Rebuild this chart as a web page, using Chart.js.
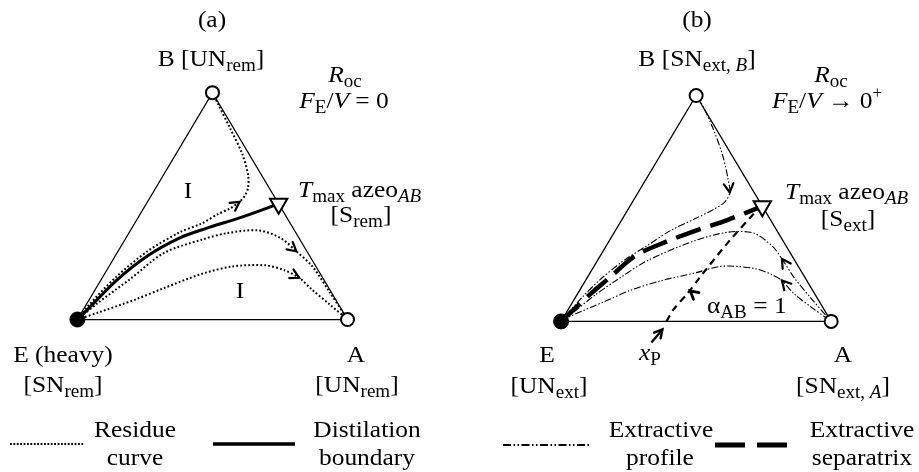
<!DOCTYPE html>
<html>
<head>
<meta charset="utf-8">
<script src="https://cdn.jsdelivr.net/npm/chart.js@4.4.0/dist/chart.umd.min.js"></script>
<style>
body { margin: 0; background: #fff; }
.wrap { display: flex; width: 919px; height: 472px; }
canvas { display: block; }
</style>
</head>
<body>
<div class="wrap">
    <canvas id="panelA" width="460" height="472"></canvas>
    <canvas id="panelB" width="459" height="472"></canvas>
</div>
<script>
// composiciones [xA, xB]  (xE = 1 - xA - xB)
const triangulo = [[0, 0], [1, 0], [0, 1], [0, 0]]
const azeoAB = [0.49, 0.51]

// (a) curvas de residuo
const residueFromB = [[0, 1], [0.042, 0.954], [0.142, 0.845], [0.247, 0.728], [0.314, 0.636], [0.341, 0.582], [0.347, 0.548], [0.341, 0.519], [0.320, 0.490], [0.287, 0.464], [0.248, 0.423], [0.187, 0.385], [0.109, 0.301], [0.050, 0.188], [0.009, 0.059], [0, 0]]
const boundary = [[0, 0], [0.016, 0.046], [0.058, 0.172], [0.119, 0.280], [0.199, 0.360], [0.276, 0.402], [0.376, 0.448], [0.49, 0.51]]
const residueMid = [[0, 0], [0.038, 0.071], [0.107, 0.180], [0.173, 0.293], [0.284, 0.352], [0.364, 0.381], [0.474, 0.393], [0.571, 0.360], [0.660, 0.301], [0.753, 0.234], [0.873, 0.121], [1, 0]]
const residueLow = [[0, 0], [0.068, 0.034], [0.170, 0.088], [0.250, 0.138], [0.359, 0.201], [0.458, 0.234], [0.576, 0.239], [0.656, 0.218], [0.729, 0.184], [0.805, 0.130], [0.900, 0.067], [1, 0]]

// (b) perfiles extractivos
const profileFromB = [[0, 1], [0.044, 0.958], [0.133, 0.857], [0.227, 0.740], [0.300, 0.635], [0.339, 0.571], [0.342, 0.529], [0.317, 0.496], [0.268, 0.454], [0.205, 0.403], [0.151, 0.336], [0.097, 0.269], [0.052, 0.185], [0.023, 0.101], [0, 0]]
const separatrix = [[0, 0], [0.048, 0.122], [0.082, 0.193], [0.129, 0.290], [0.213, 0.353], [0.300, 0.403], [0.393, 0.450], [0.49, 0.51]]
const profileMid = [[0, 0], [0.022, 0.034], [0.068, 0.118], [0.113, 0.181], [0.185, 0.269], [0.316, 0.357], [0.420, 0.395], [0.517, 0.391], [0.617, 0.332], [0.679, 0.277], [0.767, 0.193], [0.876, 0.101], [1, 0]]
const profileLow = [[0, 0], [0.026, 0.025], [0.117, 0.088], [0.190, 0.139], [0.282, 0.181], [0.388, 0.214], [0.471, 0.244], [0.595, 0.235], [0.680, 0.206], [0.727, 0.181], [0.802, 0.122], [0.895, 0.063], [1, 0]]
const alphaLine = [[0.390, 0], [0.390, 0.055], [0.406, 0.122], [0.416, 0.193], [0.443, 0.349], [0.475, 0.475], [0.49, 0.51]]

const FUENTE = '"Liberation Serif", "Times New Roman", serif'
const SX = 1.06
const estilos = {
    n: { size: 24, it: false, dy: 0 },
    i: { size: 24, it: true, dy: 0 },
    s: { size: 18, it: false, dy: 5 },
    si: { size: 18, it: true, dy: 5 },
    p: { size: 16, it: false, dy: -10 }
}

const toXY = ([a, b]) => ({ x: a + b / 2, y: b })

const linea = (pts, extra) => Object.assign({
    data: pts.map(toXY), showLine: true, pointRadius: 0, borderColor: '#000',
    backgroundColor: '#000', borderWidth: 1.2, tension: 0.3, fill: false
}, extra)

const marcadores = () => [
    { data: [toXY([0, 1]), toXY([1, 0])], pointStyle: 'circle', pointRadius: 6.5, pointBackgroundColor: '#fff', pointBorderColor: '#000', pointBorderWidth: 2, showLine: false },
    { data: [toXY([0, 0])], pointStyle: 'circle', pointRadius: 7.5, pointBackgroundColor: '#000', pointBorderColor: '#000', pointBorderWidth: 1, showLine: false },
    { data: [toXY(azeoAB)], pointStyle: 'triangle', rotation: 180, pointRadius: 10, pointBackgroundColor: '#fff', pointBorderColor: '#000', pointBorderWidth: 2, showLine: false }
]

const escribir = (ctx, partes, x, y, alinear) => {
    const fuente = e => `${e.it ? 'italic ' : ''}${e.size}px ${FUENTE}`
    let ancho = 0
    partes.forEach(([t, s]) => { ctx.font = fuente(estilos[s]); ancho += ctx.measureText(t).width })
    ctx.save()
    ctx.translate(x, y)
    ctx.scale(SX, 1)
    ctx.fillStyle = '#000'
    ctx.textBaseline = 'alphabetic'
    let cx = alinear === 'c' ? -ancho / 2 : 0
    partes.forEach(([t, s]) => {
        const e = estilos[s]
        ctx.font = fuente(e)
        ctx.fillText(t, cx, e.dy)
        cx += ctx.measureText(t).width
    })
    ctx.restore()
}

const punta = (ctx, x, y, ang, largo, grosor) => {
    ctx.save()
    ctx.strokeStyle = '#000'
    ctx.lineWidth = grosor || 2.2
    ctx.setLineDash([])
    ctx.lineCap = 'round'
    ctx.beginPath()
    const a1 = ang + Math.PI - 0.5, a2 = ang + Math.PI + 0.5
    ctx.moveTo(x + largo * Math.cos(a1), y + largo * Math.sin(a1))
    ctx.lineTo(x, y)
    ctx.lineTo(x + largo * Math.cos(a2), y + largo * Math.sin(a2))
    ctx.stroke()
    ctx.restore()
}

const trazo = (ctx, x1, x2, y, ancho, dash) => {
    ctx.save()
    ctx.strokeStyle = '#000'
    ctx.lineWidth = ancho
    ctx.setLineDash(dash)
    ctx.beginPath()
    ctx.moveTo(x1, y)
    ctx.lineTo(x2, y)
    ctx.stroke()
    ctx.restore()
}

const hacerPlugin = (textos, leyenda, extra) => ({
    id: 'dibujo',
    afterDatasetsDraw(chart) {
        const ctx = chart.ctx
        chart.data.datasets.forEach((ds, di) => {
            if (!ds.flechas) return
            const pts = chart.getDatasetMeta(di).data
            ds.flechas.forEach(f => {
                const p = pts[f.i]
                const q = pts[f.rev ? f.i + 1 : f.i - 1]
                const ang = f.ang !== undefined ? f.ang * Math.PI / 180 : Math.atan2(p.y - q.y, p.x - q.x)
                punta(ctx, p.x + (f.dx || 0), p.y + (f.dy || 0), ang, f.largo || 10, f.grosor)
            })
        })
        if (extra) extra(chart)
    },
    afterDraw(chart) {
        const ctx = chart.ctx
        leyenda.forEach(l => trazo(ctx, l.x1, l.x2, l.y, l.w, l.dash))
        textos.forEach(t => escribir(ctx, t.p, t.x, t.y, t.a))
    }
})

const crearPanel = (id, geo, datasets, textos, leyenda, extra) => {
    new Chart(document.getElementById(id), {
        type: 'scatter',
        data: { datasets },
        options: {
            responsive: false,
            animation: false,
            events: [],
            layout: { padding: 0 },
            plugins: { legend: { display: false }, tooltip: { enabled: false } },
            scales: {
                x: { type: 'linear', display: false, min: -geo.ex / geo.w, max: (geo.cw - geo.ex) / geo.w },
                y: { type: 'linear', display: false, min: (geo.base - 472) / geo.h, max: geo.base / geo.h }
            }
        },
        plugins: [hacerPlugin(textos, leyenda, extra)]
    })
}

const punteado = { borderDash: [1.8, 2.2], borderWidth: 2 }
const rayaPunto = { borderDash: [7, 2, 1.5, 2, 1.5, 2], borderWidth: 1.1 }

// panel (a)
crearPanel('panelA', { ex: 69, base: 324, w: 285, h: 239, cw: 460 }, [
    ...marcadores(),
    linea(boundary, { borderWidth: 3 }),
    linea(residueFromB, Object.assign({ flechas: [{ i: 7, rev: true }] }, punteado)),
    linea(residueMid, Object.assign({ flechas: [{ i: 8 }] }, punteado)),
    linea(residueLow, Object.assign({ flechas: [{ i: 8 }] }, punteado)),
    linea(triangulo, { tension: 0, borderWidth: 1.3 })
], [
    { p: [['(a)', 'n']], x: 212, y: 27, a: 'c' },
    { p: [['B [UN', 'n'], ['rem', 's'], [']', 'n']], x: 211, y: 66, a: 'c' },
    { p: [['R', 'i'], ['oc', 's']], x: 345, y: 82, a: 'c' },
    { p: [['F', 'i'], ['E', 's'], ['/', 'n'], ['V', 'i'], [' = 0', 'n']], x: 344, y: 108, a: 'c' },
    { p: [['T', 'i'], ['max', 's'], [' azeo', 'n'], ['AB', 'si']], x: 298, y: 197, a: 'l' },
    { p: [['[S', 'n'], ['rem', 's'], [']', 'n']], x: 361, y: 222, a: 'c' },
    { p: [['I', 'n']], x: 188, y: 198, a: 'c' },
    { p: [['I', 'n']], x: 240, y: 298, a: 'c' },
    { p: [['E (heavy)', 'n']], x: 63, y: 362, a: 'c' },
    { p: [['[SN', 'n'], ['rem', 's'], [']', 'n']], x: 63, y: 392, a: 'c' },
    { p: [['A', 'n']], x: 356, y: 362, a: 'c' },
    { p: [['[UN', 'n'], ['rem', 's'], [']', 'n']], x: 357, y: 392, a: 'c' },
    { p: [['Residue', 'n']], x: 135, y: 437, a: 'c' },
    { p: [['curve', 'n']], x: 135, y: 465, a: 'c' },
    { p: [['Distilation', 'n']], x: 367, y: 437, a: 'c' },
    { p: [['boundary', 'n']], x: 367, y: 465, a: 'c' }
], [
    { x1: 10, x2: 84, y: 444, w: 2, dash: [1.8, 1.6] },
    { x1: 213, x2: 295, y: 444, w: 3.5, dash: [] }
])

// panel (b)
const flechaXP = (chart) => {
    const meta = chart.data.datasets.findIndex(d => d.esAlpha)
    const p = chart.getDatasetMeta(meta).data[0]
    const ctx = chart.ctx
    ctx.save()
    ctx.strokeStyle = '#000'
    ctx.lineWidth = 2.2
    ctx.setLineDash([])
    ctx.beginPath()
    ctx.moveTo(p.x - 15, p.y + 21)
    ctx.lineTo(p.x - 4, p.y + 8)
    ctx.stroke()
    ctx.restore()
    punta(ctx, p.x - 4, p.y + 8, Math.atan2(-13, 11), 9, 2.4)
}

crearPanel('panelB', { ex: 94, base: 326, w: 285, h: 238, cw: 459 }, [
    ...marcadores(),
    linea(separatrix, { borderWidth: 4.5, borderDash: [26, 10] }),
    linea(alphaLine, { borderWidth: 2.2, borderDash: [7, 5], esAlpha: true, flechas: [{ i: 2, ang: -140, dx: 3, dy: -3, grosor: 2.8, largo: 9 }] }),
    linea(profileFromB, Object.assign({ flechas: [{ i: 5 }] }, rayaPunto)),
    linea(profileMid, Object.assign({ flechas: [{ i: 9, rev: true }] }, rayaPunto)),
    linea(profileLow, Object.assign({ flechas: [{ i: 9, rev: true }] }, rayaPunto)),
    linea(triangulo, { tension: 0, borderWidth: 1.3 })
], [
    { p: [['(b)', 'n']], x: 237, y: 27, a: 'c' },
    { p: [['B [SN', 'n'], ['ext, ', 's'], ['B', 'si'], [']', 'n']], x: 237, y: 66, a: 'c' },
    { p: [['R', 'i'], ['oc', 's']], x: 371, y: 82, a: 'c' },
    { p: [['F', 'i'], ['E', 's'], ['/', 'n'], ['V', 'i'], [' \u2192 0', 'n'], ['+', 'p']], x: 367, y: 108, a: 'c' },
    { p: [['T', 'i'], ['max', 's'], [' azeo', 'n'], ['AB', 'si']], x: 325, y: 199, a: 'l' },
    { p: [['[S', 'n'], ['ext', 's'], [']', 'n']], x: 388, y: 226, a: 'c' },
    { p: [['\u03b1', 'n'], ['AB', 's'], [' = 1', 'n']], x: 247, y: 313, a: 'l' },
    { p: [['x', 'i'], ['P', 's']], x: 190, y: 360, a: 'c' },
    { p: [['E', 'n']], x: 87, y: 362, a: 'c' },
    { p: [['[UN', 'n'], ['ext', 's'], [']', 'n']], x: 89, y: 393, a: 'c' },
    { p: [['A', 'n']], x: 383, y: 362, a: 'c' },
    { p: [['[SN', 'n'], ['ext, ', 's'], ['A', 'si'], [']', 'n']], x: 383, y: 393, a: 'c' },
    { p: [['Extractive', 'n']], x: 201, y: 437, a: 'c' },
    { p: [['profile', 'n']], x: 200, y: 465, a: 'c' },
    { p: [['Extractive', 'n']], x: 402, y: 437, a: 'c' },
    { p: [['separatrix', 'n']], x: 402, y: 465, a: 'c' }
], [
    { x1: 43, x2: 130, y: 445, w: 2, dash: [8, 2.5, 1.5, 2.5, 1.5, 2.5] },
    { x1: 255, x2: 329, y: 445, w: 5, dash: [30, 12] }
], flechaXP)
</script>
</body>
</html>
